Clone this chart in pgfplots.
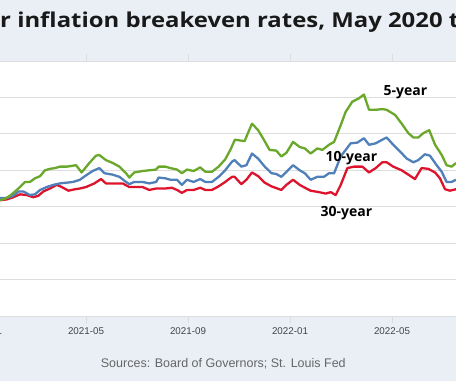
\documentclass[border=0pt]{standalone}
\usepackage{fontspec}
\setmainfont{Liberation Sans}
\newfontfamily\titlefont{Open Sans}
\usepackage{pgfplots}
\usepackage{pgfplotstable}
\pgfplotsset{compat=1.18}
\definecolor{bg}{HTML}{E9EFF5}
\definecolor{cgreen}{HTML}{6AA82C}
\definecolor{cblue}{HTML}{4F80B9}
\definecolor{cred}{HTML}{DC142D}
\definecolor{gridc}{HTML}{DDDDDD}
\definecolor{tickc}{HTML}{444444}
\definecolor{srcc}{HTML}{666666}

% x = months since 2021-01, y = percent
\pgfplotstableread{
m v
0.63 2.09
0.82 2.11
1.02 2.15
1.22 2.21
1.41 2.27
1.61 2.34
1.80 2.34
2.00 2.39
2.20 2.42
2.39 2.50
2.59 2.52
2.78 2.53
2.98 2.55
3.24 2.55
3.44 2.56
3.61 2.57
3.83 2.47
4.13 2.60
4.39 2.70
4.52 2.71
4.78 2.64
5.05 2.60
5.31 2.55
5.57 2.46
5.70 2.40
5.89 2.47
6.22 2.49
6.48 2.50
6.75 2.51
6.85 2.55
7.11 2.55
7.31 2.53
7.57 2.51
7.76 2.46
7.96 2.51
8.22 2.49
8.48 2.54
8.68 2.48
8.94 2.48
9.20 2.55
9.46 2.65
9.66 2.78
9.84 2.92
10.03 2.91
10.22 2.90
10.35 3.01
10.51 3.14
10.75 3.05
10.94 2.94
11.20 2.78
11.46 2.77
11.66 2.69
11.86 2.74
12.12 2.89
12.38 2.82
12.58 2.80
12.81 2.73
13.07 2.80
13.27 2.78
13.53 2.85
13.73 2.89
13.99 3.12
14.18 3.30
14.44 3.44
14.71 3.49
14.90 3.54
15.10 3.33
15.36 3.33
15.62 3.34
15.79 3.33
16.12 3.26
16.38 3.14
16.64 3.01
16.84 2.95
17.03 2.95
17.23 3.01
17.46 3.05
17.69 2.85
17.95 2.71
18.14 2.57
18.34 2.55
18.51 2.60
}\fiveyear

\pgfplotstableread{
m v
0.63 2.12
0.89 2.12
1.15 2.15
1.35 2.21
1.54 2.21
1.80 2.16
2.00 2.17
2.20 2.23
2.46 2.27
2.72 2.30
2.98 2.32
3.24 2.33
3.50 2.34
3.76 2.37
4.00 2.43
4.26 2.49
4.52 2.53
4.72 2.46
5.05 2.44
5.31 2.41
5.57 2.34
5.70 2.31
5.89 2.34
6.22 2.34
6.48 2.32
6.75 2.34
6.85 2.40
7.11 2.39
7.31 2.37
7.57 2.37
7.76 2.30
7.96 2.37
8.22 2.34
8.48 2.38
8.68 2.34
8.94 2.34
9.20 2.41
9.46 2.50
9.57 2.55
9.73 2.62
9.83 2.64
10.09 2.55
10.29 2.57
10.51 2.73
10.75 2.66
11.01 2.55
11.27 2.46
11.46 2.45
11.66 2.41
11.86 2.48
12.12 2.57
12.38 2.50
12.58 2.46
12.81 2.37
13.07 2.41
13.33 2.41
13.53 2.46
13.73 2.46
13.99 2.69
14.38 2.87
14.64 2.88
14.90 2.94
15.10 2.85
15.36 2.87
15.62 2.92
15.79 2.95
16.05 2.85
16.31 2.76
16.58 2.66
16.84 2.61
17.03 2.64
17.29 2.72
17.49 2.70
17.75 2.57
17.95 2.48
18.14 2.34
18.34 2.34
18.51 2.37
}\tenyear

\pgfplotstableread{
m v
0.63 2.09
0.89 2.10
1.15 2.13
1.41 2.17
1.67 2.16
1.93 2.13
2.13 2.15
2.33 2.21
2.59 2.25
2.85 2.30
3.05 2.27
3.31 2.22
3.57 2.24
3.76 2.25
4.00 2.27
4.33 2.32
4.59 2.38
4.78 2.32
5.18 2.32
5.44 2.32
5.70 2.27
5.96 2.27
6.22 2.27
6.48 2.23
6.75 2.25
6.85 2.25
7.11 2.25
7.37 2.26
7.57 2.23
7.76 2.19
7.96 2.23
8.22 2.23
8.48 2.26
8.68 2.23
8.94 2.23
9.20 2.28
9.46 2.34
9.57 2.37
9.73 2.41
9.83 2.41
10.09 2.31
10.29 2.37
10.51 2.47
10.75 2.42
11.01 2.33
11.27 2.28
11.66 2.23
11.86 2.30
12.12 2.37
12.38 2.30
12.64 2.25
12.81 2.22
13.14 2.20
13.40 2.18
13.60 2.20
13.79 2.16
13.99 2.30
14.25 2.53
14.51 2.55
14.84 2.55
15.10 2.47
15.36 2.53
15.62 2.61
15.79 2.61
16.05 2.55
16.38 2.50
16.64 2.44
16.90 2.38
17.16 2.53
17.42 2.52
17.69 2.47
17.88 2.39
18.08 2.24
18.27 2.22
18.51 2.24
}\thirtyyear

\begin{document}
\begin{tikzpicture}[x=1pt,y=1pt]
\fill[bg] (0,0) rectangle (456,381);
\begin{scope}
\clip (0,0) rectangle (456,381);
\node[anchor=base west, inner sep=0pt, xscale=1.165, transform shape, font=\titlefont\bfseries\fontsize{20.5}{22}\selectfont, text=black!90] at (0,353) {r inflation breakeven rates, May 2020 to July 2022};
\begin{axis}[
  at={(-41.5pt,65pt)}, anchor=south west,
  scale only axis, width=535.5pt, height=255pt,
  xmin=-1, xmax=20, ymin=0.5, ymax=4.0,
  axis background/.style={fill=white},
  axis line style={draw=none},
  xtick={0,4,8,12,16,20},
  xticklabels={2021-01,2021-05,2021-09,2022-01,2022-05,2022-09},
  ytick={0.5,1,...,4},
  yticklabels={},
  ymajorgrids, grid style={gridc, line width=0.8pt},
  tick align=outside, major tick length=7pt,
  xtick style={draw=gridc, line width=0.8pt},
  ytick style={draw=none},
  xticklabel style={font=\fontsize{9.8}{11}\selectfont, text=tickc, anchor=base, yshift=-11pt},
  clip=true,
]
\addplot[cred, line width=2.3pt, line join=round] table[x=m,y=v] {\thirtyyear};
\addplot[cblue, line width=2.3pt, line join=round] table[x=m,y=v] {\tenyear};
\addplot[cgreen, line width=2.3pt, line join=round] table[x=m,y=v] {\fiveyear};
\end{axis}
\node[anchor=base, inner sep=0pt, font=\titlefont\bfseries\fontsize{14}{16}\selectfont] at (405.5,285) {5-year};
\node[anchor=base, inner sep=0pt, font=\titlefont\bfseries\fontsize{14}{16}\selectfont] at (351.5,219.3) {10-year};
\node[anchor=base, inner sep=0pt, font=\titlefont\bfseries\fontsize{14}{16}\selectfont] at (346.5,164) {30-year};
\node[anchor=base, inner sep=0pt, font=\fontsize{12.5}{14}\selectfont, text=srcc] at (223.3,14) {Sources: Board of Governors; St. Louis Fed};
\end{scope}
\pgfresetboundingbox
\useasboundingbox (0,0) rectangle (456,381);
\end{tikzpicture}
\end{document}
